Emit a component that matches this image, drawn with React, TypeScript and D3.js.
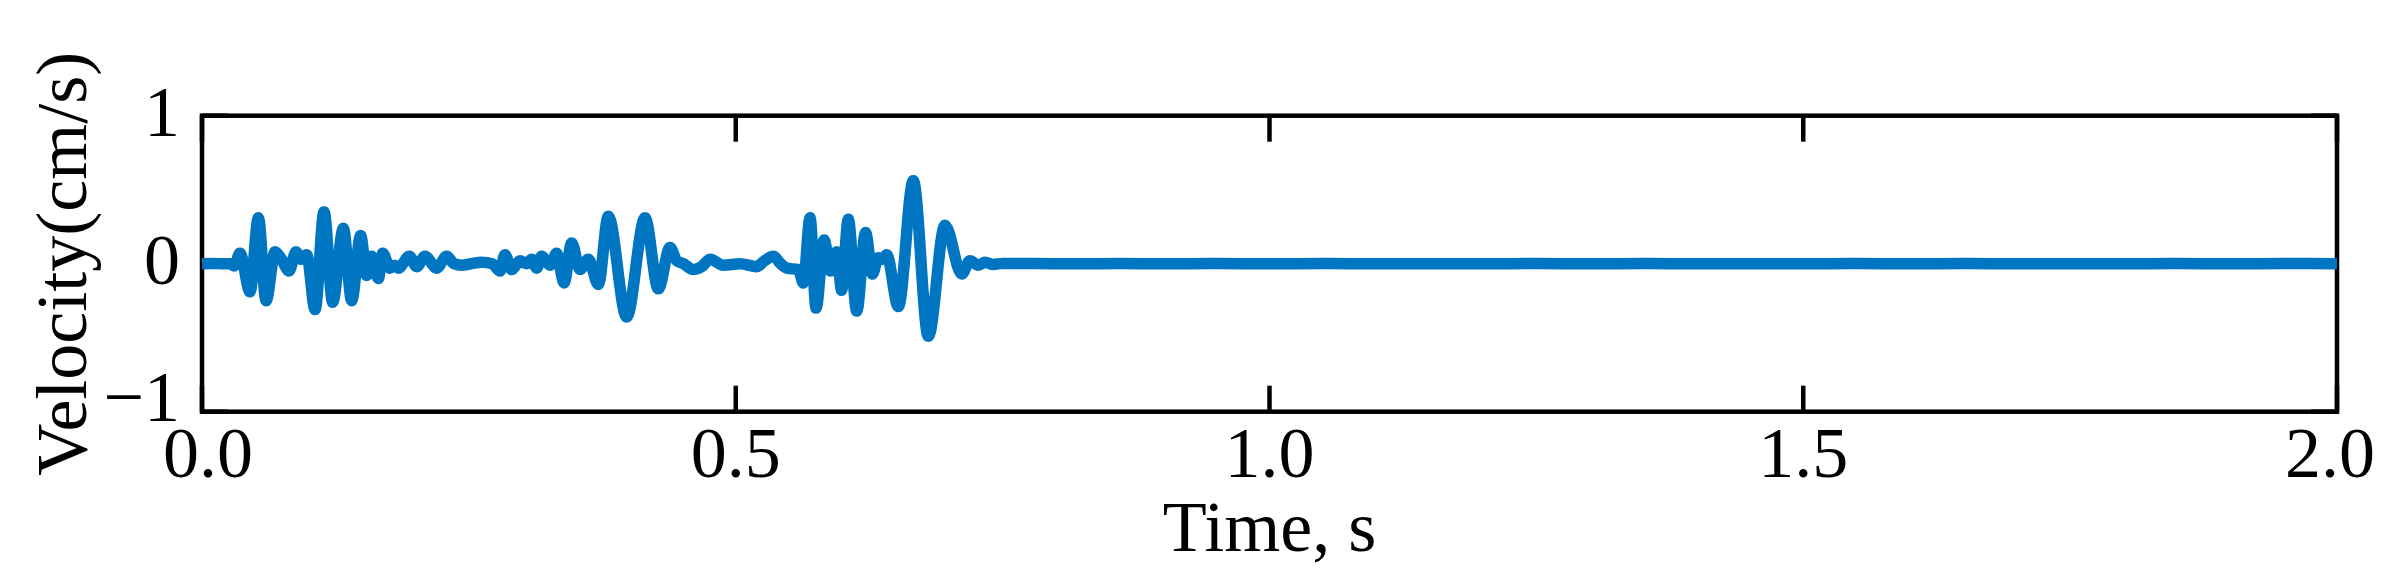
import React from "react";
import * as d3 from "d3";

// ---- data ----
const timeS: number[] = [
  0.0, 0.01, 0.02, 0.026, 0.03, 0.0356, 0.045, 0.0528, 0.06, 0.0684, 0.0746, 0.0815, 0.0881, 0.0927, 0.0981,
  0.1059, 0.1143, 0.1224, 0.1324, 0.1402, 0.1486, 0.1543, 0.1589, 0.1652, 0.1693, 0.1761, 0.18, 0.1839, 0.1942,
  0.2011, 0.2089, 0.2198, 0.2292, 0.236, 0.2433, 0.252, 0.262, 0.272, 0.2792, 0.2838, 0.2901, 0.2979, 0.304,
  0.3088, 0.3135, 0.3182, 0.326, 0.3323, 0.3391, 0.3463, 0.3541, 0.3619, 0.3713, 0.3806, 0.3978, 0.415, 0.4275,
  0.4384, 0.4447, 0.4509, 0.4603, 0.4681, 0.4759, 0.4884, 0.504, 0.5196, 0.527, 0.5352, 0.542, 0.5477, 0.5587,
  0.5633, 0.5696, 0.5752, 0.5827, 0.5889, 0.5946, 0.5992, 0.6054, 0.6133, 0.6216, 0.628, 0.6335, 0.6375, 0.6414,
  0.6523, 0.6663, 0.6804, 0.696, 0.7117, 0.7194, 0.7272, 0.7335, 0.7413, 0.75,
  0.78, 0.82, 0.86, 0.9, 0.95, 1.0, 1.05, 1.1, 1.15, 1.2, 1.25, 1.3, 1.35, 1.4, 1.45, 1.5, 1.55, 1.6, 1.65,
  1.7, 1.75, 1.8, 1.85, 1.9, 1.95, 2.0,
];
const velocity: number[] = [
  0.0, 0.002, -0.001, 0.0, -0.015, 0.07, -0.19, 0.31, -0.25, 0.08, 0.03, -0.05, 0.08, 0.03, 0.06,
  -0.31, 0.35, -0.26, 0.24, -0.25, 0.19, -0.08, 0.05, -0.1, 0.07, -0.03, -0.01, -0.03, 0.05,
  -0.02, 0.05, -0.03, 0.05, 0.0, -0.01, 0.0, 0.01, 0.0, -0.05, 0.06, -0.04, 0.02, 0.0,
  0.03, -0.03, 0.05, -0.01, 0.07, -0.13, 0.14, -0.04, 0.03, -0.14, 0.32, -0.36, 0.31, -0.17,
  0.11, 0.02, 0.0, -0.04, -0.02, 0.03, -0.01, 0.0, -0.02, 0.02, 0.05, 0.0, -0.03, -0.04,
  -0.13, 0.31, -0.3, 0.16, -0.05, 0.08, -0.18, 0.3, -0.32, 0.21, -0.07, 0.04, 0.03, 0.06,
  -0.29, 0.56, -0.49, 0.26, -0.07, 0.02, -0.01, 0.01, -0.005, 0.002,
  0.001, -0.001, 0.001, -0.001, 0.001, 0.0, 0.001, -0.001, 0.0, -0.001, 0.001, 0.0, 0.001, -0.001,
  0.0, -0.001, 0.001, 0.0, 0.001, -0.001, 0.0, -0.001, 0.001, 0.0, 0.001, 0.0,
];
const xTicks: number[] = [0, 0.5, 1.0, 1.5, 2.0];
const yTicks: number[] = [-1, 0, 1];
const xLabel = "Time, s";
const yLabel = "Velocity(cm/s)";

// ---- layout ----
const W = 2400;
const H = 586;
const M = { left: 202, right: 63, top: 115.7, bottom: 174.3 };
const FONT = "'Liberation Serif', 'Times New Roman', serif";
const LINE_COLOR = "#0075C2";

export default function App() {
  const x = d3.scaleLinear().domain([0, 2]).range([M.left, W - M.right]);
  const y = d3.scaleLinear().domain([-1, 1]).range([H - M.bottom, M.top]);
  const pts: [number, number][] = timeS.map((t, i) => [t, velocity[i]]);
  const line = d3
    .line<[number, number]>()
    .x((d) => x(d[0]))
    .y((d) => y(d[1]))
    .curve(d3.curveMonotoneX);

  const tickLen = 26;
  const x0 = x.range()[0];
  const x1 = x.range()[1];
  const yTop = y.range()[1];
  const yBot = y.range()[0];

  return (
    <svg
      width={W}
      height={H}
      style={{ position: "absolute", left: 0, top: 0, background: "#fff" }}
      fontFamily={FONT}
    >
      <rect x={0} y={0} width={W} height={H} fill="#fff" />
      {/* ticks inward */}
      {xTicks.map((t) => (
        <g key={"xt" + t}>
          <line x1={x(t)} x2={x(t)} y1={yBot} y2={yBot - tickLen} stroke="#000" strokeWidth={4.5} />
          <line x1={x(t)} x2={x(t)} y1={yTop} y2={yTop + tickLen} stroke="#000" strokeWidth={4.5} />
        </g>
      ))}
      {yTicks.map((v) => (
        <g key={"yt" + v}>
          <line x1={x0} x2={x0 + tickLen} y1={y(v)} y2={y(v)} stroke="#000" strokeWidth={4.5} />
          <line x1={x1} x2={x1 - tickLen} y1={y(v)} y2={y(v)} stroke="#000" strokeWidth={4.5} />
        </g>
      ))}
      {/* box */}
      <rect
        x={x0}
        y={yTop}
        width={x1 - x0}
        height={yBot - yTop}
        fill="none"
        stroke="#000"
        strokeWidth={4.5}
      />
      {/* data line */}
      <path d={line(pts) || ""} fill="none" stroke={LINE_COLOR} strokeWidth={11.5} strokeLinejoin="round" />
      {/* x tick labels */}
      {xTicks.map((t, i) => {
        const shift = i === 0 ? 6 : i === xTicks.length - 1 ? -7 : 0;
        return (
          <text key={"xl" + t} x={x(t) + shift} y={yBot + 65} fontSize={72} textAnchor="middle" fill="#000">
            {t.toFixed(1)}
          </text>
        );
      })}
      {/* y tick labels */}
      {yTicks.map((v, i) => {
        const base = i === 0 ? 9.5 : 20;
        return (
          <text key={"yl" + v} x={180} y={y(v) + base} fontSize={72} textAnchor="end" fill="#000">
            {v < 0 ? "\u2212" + Math.abs(v) : String(v)}
          </text>
        );
      })}
      {/* axis labels */}
      <text x={(x0 + x1) / 2} y={551} fontSize={72} textAnchor="middle" fill="#000">
        {xLabel}
      </text>
      <text
        transform={`translate(86, ${(yTop + yBot) / 2}) rotate(-90)`}
        fontSize={72}
        textAnchor="middle"
        fill="#000"
      >
        {yLabel}
      </text>
    </svg>
  );
}
